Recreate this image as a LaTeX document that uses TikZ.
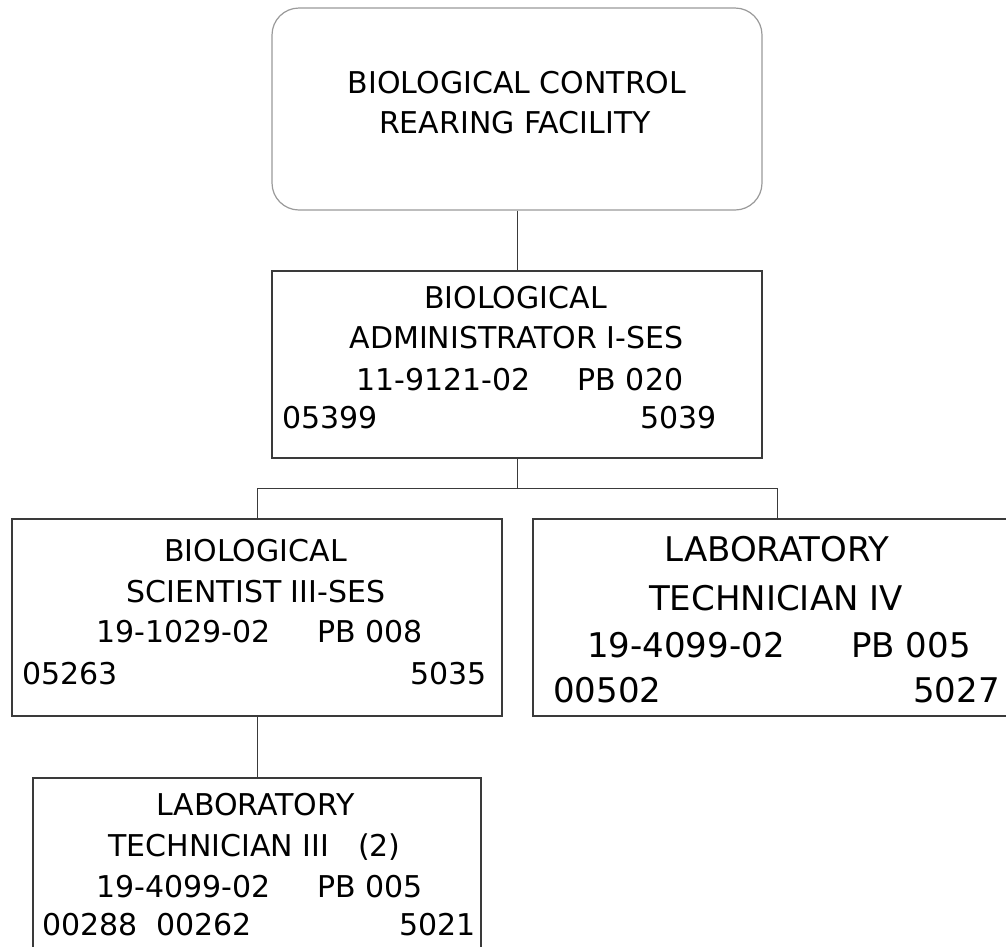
\documentclass[tikz,border=0pt]{standalone}
\usepackage{fontspec}
\setmainfont{DejaVu Sans}
\begin{document}
\begin{tikzpicture}[x=1pt,y=-1pt]
\definecolor{boxline}{HTML}{3A3A3A}
\definecolor{softline}{HTML}{9A9A9A}
\definecolor{linkcol}{HTML}{3A3A3A}
\tikzset{
  box/.style={draw=boxline, line width=1.2pt, inner sep=0pt, fill=white},
  unitbox/.style={box, draw=softline, rounded corners=27pt},
  link/.style={draw=linkcol, line width=1pt},
  lbl/.style={inner sep=0pt, anchor=base, text=black, font=\fontsize{30}{36}\selectfont},
  lblbig/.style={lbl, font=\fontsize{34}{40}\selectfont},
  lleft/.style={anchor=base west},
  lright/.style={anchor=base east},
}
\useasboundingbox (0,0) rectangle (1006,946);
\clip (0,0) rectangle (1006,946);

% boxes
\node[unitbox, minimum width=490pt, minimum height=202pt] (top) at (517,109) {};
\node[box, minimum width=490pt, minimum height=187pt] (admin) at (517,364.5) {};
\node[box, minimum width=490pt, minimum height=197pt] (sci) at (257,617.5) {};
\node[box, minimum width=488pt, minimum height=197pt] (tech4) at (777,617.5) {};
\node[box, minimum width=448pt, minimum height=190pt] (tech3) at (257,873) {};

% connectors
\coordinate (bus) at (517,488);
\draw[link] (top.south) -- (admin.north);
\draw[link] (admin.south) -- (bus);
\draw[link] (sci.north) |- (bus) -| (tech4.north);
\draw[link] (sci.south) -- (tech3.north);

% unit title
\node[lbl] (topa) at (517,93) {BIOLOGICAL CONTROL};
\node[lbl] (topb) at (515,133) {REARING FACILITY};

% administrator
\node[lbl] (ada) at (515.5,308) {BIOLOGICAL};
\node[lbl] (adb) at (516.5,348) {ADMINISTRATOR I-SES};
\node[lbl] (adc) at (443.5,390) {11-9121-02};
\node[lbl] (add) at (630.5,390) {PB 020};
\node[lbl,lleft] (ade) at (282,428) {05399};
\node[lbl,lright] (adf) at (717,428) {5039};

% scientist
\node[lbl] (sca) at (255.5,561) {BIOLOGICAL};
\node[lbl] (scb) at (256,602) {SCIENTIST III-SES};
\node[lbl] (scc) at (183.5,642) {19-1029-02};
\node[lbl] (scd) at (370,642) {PB 008};
\node[lbl,lleft] (sce) at (22,684) {05263};
\node[lbl,lright] (scf) at (487,684) {5035};

% technician IV
\node[lblbig] (tfa) at (777,561) {LABORATORY};
\node[lblbig] (tfb) at (776,610) {TECHNICIAN IV};
\node[lblbig] (tfc) at (686,657) {19-4099-02};
\node[lblbig] (tfd) at (911,657) {PB 005};
\node[lblbig,lleft] (tfe) at (553,702) {00502};
\node[lblbig,lright] (tff) at (1000,702) {5027};

% technician III
\node[lbl] (tta) at (255.5,815) {LABORATORY};
\node[lbl] (ttb) at (254.5,856) {TECHNICIAN III~~~(2)};
\node[lbl] (ttc) at (183.5,897) {19-4099-02};
\node[lbl] (ttd) at (370,897) {PB 005};
\node[lbl,lleft] (tte) at (42,935) {00288~~00262};
\node[lbl,lright] (ttf) at (476,935) {5021};
\end{tikzpicture}
\end{document}
